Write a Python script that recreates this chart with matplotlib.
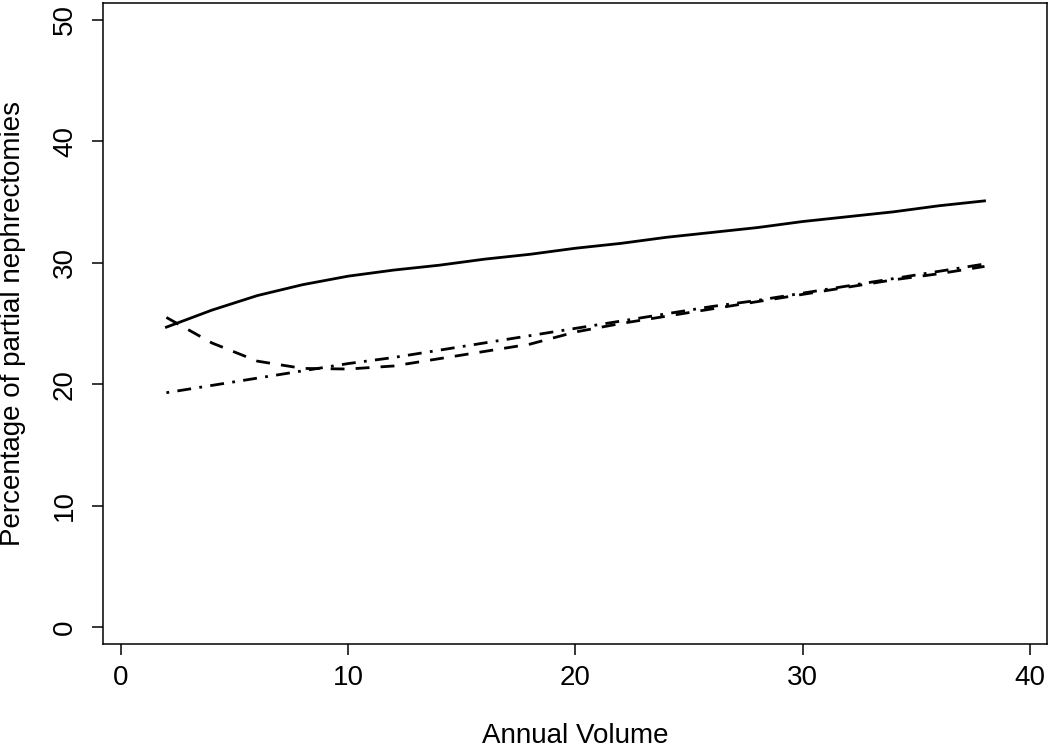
import matplotlib
matplotlib.use("Agg")
import matplotlib.pyplot as plt

plt.rcParams['font.family'] = ['Liberation Sans', 'DejaVu Sans']

# annual volume grid and the three fitted curves
volume = [2, 4, 6, 8, 10, 12, 14, 16, 18, 20, 22, 24, 26, 28, 30, 32, 34, 36, 38]
solid_pct = [24.7, 26.1, 27.3, 28.2, 28.9, 29.4, 29.8, 30.3, 30.7, 31.2,
             31.6, 32.1, 32.5, 32.9, 33.4, 33.8, 34.2, 34.7, 35.1]
dashed_pct = [25.5, 23.4, 21.9, 21.3, 21.25, 21.5, 22.1, 22.7, 23.3, 24.3,
              25.0, 25.6, 26.2, 26.8, 27.4, 28.0, 28.6, 29.1, 29.7]
dotdash_pct = [19.3, 19.9, 20.5, 21.1, 21.7, 22.2, 22.8, 23.4, 24.0, 24.6,
               25.2, 25.8, 26.4, 26.9, 27.5, 28.1, 28.7, 29.3, 29.9]

x_ticks = [0, 10, 20, 30, 40]
y_ticks = [0, 10, 20, 30, 40, 50]

W, H = 1050, 748
fig = plt.figure(figsize=(W / 100, H / 100), dpi=100)
ax = fig.add_axes([103 / W, (H - 644) / H, (1047 - 103) / W, (644 - 3) / H])

ax.plot(volume, solid_pct, color='black', lw=2, linestyle='-')
ax.plot(volume, dashed_pct, color='black', lw=2, linestyle=(0, (5, 4)))
ax.plot(volume, dotdash_pct, color='black', lw=2, linestyle=(0, (1, 3, 5, 3)))

ax.set_xlim(-0.79, 40.75)
ax.set_ylim(-1.4, 51.4)
ax.set_xticks(x_ticks)
ax.set_yticks(y_ticks)
ax.set_xticklabels([str(t) for t in x_ticks])
ax.set_yticklabels([str(t) for t in y_ticks], rotation=90, va='center')

for sp in ax.spines.values():
    sp.set_linewidth(1.1)
ax.tick_params(axis='both', direction='out', length=8, width=1.1,
               labelsize=20, color='black')
ax.tick_params(axis='x', pad=7)
ax.tick_params(axis='y', pad=10)

fig.text(575 / W, (H - 743) / H, "Annual Volume", ha='center', va='baseline',
         fontsize=20)
fig.text(13 / W, (H - 324) / H, "Percentage of partial nephrectomies",
         rotation=90, ha='center', va='center', fontsize=20)

fig.savefig("out.png", dpi=100)
